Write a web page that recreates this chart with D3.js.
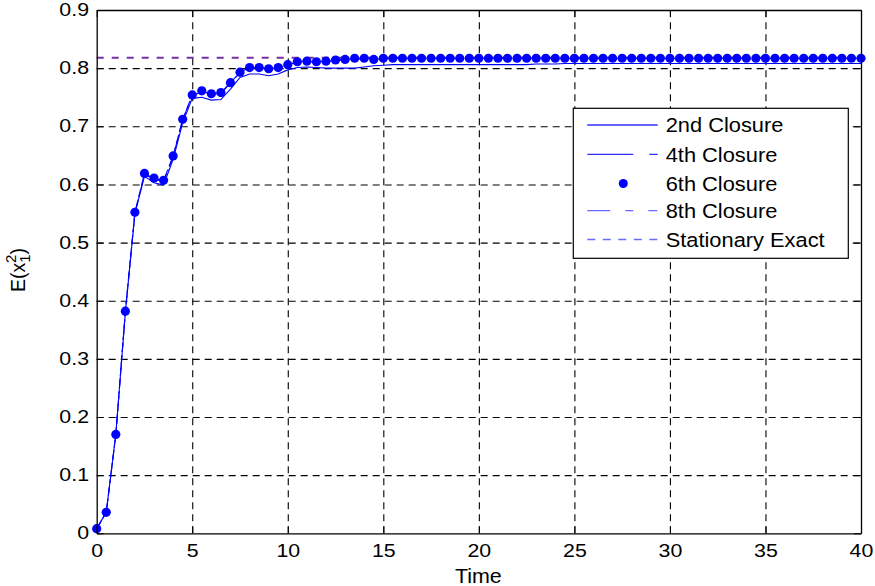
<!DOCTYPE html>
<html>
<head>
<meta charset="utf-8">
<script src="https://cdn.jsdelivr.net/npm/d3@7"></script>
<style>
  html, body { margin: 0; padding: 0; background: #fff; }
  svg { display: block; }
  text { font-family: "Liberation Sans", Arial, sans-serif; fill: #000; }
</style>
</head>
<body>
<svg id="chart" width="875" height="586"></svg>
<script>
// Sample times (s)
const time = [
  0, 0.5, 1, 1.5, 2, 2.5, 3, 3.5, 4, 4.5, 5, 5.5, 6, 6.5, 7, 7.5, 8, 8.5, 9, 9.5,
  10, 10.5, 11, 11.5, 12, 12.5, 13, 13.5, 14, 14.5, 15, 15.5, 16, 16.5, 17, 17.5, 18, 18.5, 19, 19.5,
  20, 20.5, 21, 21.5, 22, 22.5, 23, 23.5, 24, 24.5, 25, 25.5, 26, 26.5, 27, 27.5, 28, 28.5, 29, 29.5,
  30, 30.5, 31, 31.5, 32, 32.5, 33, 33.5, 34, 34.5, 35, 35.5, 36, 36.5, 37, 37.5, 38, 38.5, 39, 39.5, 40
];

// E(x1^2) from each moment closure
const closure2 = [
  0.008, 0.036, 0.170, 0.380, 0.550, 0.614, 0.603, 0.599, 0.643, 0.706,
  0.748, 0.750, 0.745, 0.746, 0.764, 0.784, 0.790, 0.790, 0.787, 0.790,
  0.797, 0.801, 0.802, 0.801, 0.800, 0.800, 0.800, 0.800, 0.802, 0.804,
  0.805, 0.806, 0.806, 0.806, 0.806, 0.806, 0.806, 0.806, 0.806, 0.806,
  0.806, 0.806, 0.806, 0.806, 0.806, 0.806, 0.807, 0.807, 0.807, 0.808,
  0.808, 0.808, 0.808, 0.808, 0.808, 0.808, 0.808, 0.808, 0.808, 0.808,
  0.808, 0.808, 0.808, 0.808, 0.808, 0.808, 0.808, 0.808, 0.808, 0.808,
  0.808, 0.808, 0.808, 0.808, 0.808, 0.808, 0.808, 0.808, 0.808, 0.808,
  0.808
];
const closure4 = [
  0.008, 0.036, 0.169, 0.381, 0.551, 0.617, 0.609, 0.605, 0.648, 0.711,
  0.753, 0.759, 0.754, 0.757, 0.774, 0.792, 0.800, 0.800, 0.798, 0.800,
  0.806, 0.810, 0.811, 0.811, 0.812, 0.813, 0.815, 0.816, 0.816, 0.815,
  0.816, 0.817, 0.817, 0.817, 0.817, 0.817, 0.817, 0.817, 0.817, 0.817,
  0.817, 0.817, 0.817, 0.817, 0.817, 0.817, 0.817, 0.817, 0.817, 0.817,
  0.817, 0.817, 0.817, 0.817, 0.817, 0.817, 0.817, 0.817, 0.817, 0.817,
  0.817, 0.817, 0.817, 0.817, 0.817, 0.817, 0.817, 0.817, 0.817, 0.817,
  0.817, 0.817, 0.817, 0.817, 0.817, 0.817, 0.817, 0.817, 0.817, 0.817,
  0.817
];
const closure6 = [
  0.008, 0.036, 0.170, 0.382, 0.552, 0.619, 0.611, 0.607, 0.649, 0.712,
  0.754, 0.761, 0.756, 0.758, 0.775, 0.793, 0.801, 0.801, 0.799, 0.801,
  0.806, 0.811, 0.812, 0.811, 0.812, 0.814, 0.815, 0.817, 0.817, 0.815,
  0.817, 0.817, 0.817, 0.817, 0.817, 0.817, 0.817, 0.817, 0.817, 0.817,
  0.817, 0.817, 0.817, 0.817, 0.817, 0.817, 0.817, 0.817, 0.817, 0.817,
  0.817, 0.817, 0.817, 0.817, 0.817, 0.817, 0.817, 0.817, 0.817, 0.817,
  0.817, 0.817, 0.817, 0.817, 0.817, 0.817, 0.817, 0.817, 0.817, 0.817,
  0.817, 0.817, 0.817, 0.817, 0.817, 0.817, 0.817, 0.817, 0.817, 0.817,
  0.817
];
const closure8 = [
  0.008, 0.036, 0.170, 0.382, 0.552, 0.619, 0.610, 0.607, 0.649, 0.712,
  0.754, 0.760, 0.756, 0.758, 0.775, 0.793, 0.801, 0.801, 0.799, 0.801,
  0.806, 0.811, 0.812, 0.811, 0.812, 0.814, 0.815, 0.817, 0.817, 0.815,
  0.817, 0.817, 0.817, 0.817, 0.817, 0.817, 0.817, 0.817, 0.817, 0.817,
  0.817, 0.817, 0.817, 0.817, 0.817, 0.817, 0.817, 0.817, 0.817, 0.817,
  0.817, 0.817, 0.817, 0.817, 0.817, 0.817, 0.817, 0.817, 0.817, 0.817,
  0.817, 0.817, 0.817, 0.817, 0.817, 0.817, 0.817, 0.817, 0.817, 0.817,
  0.817, 0.817, 0.817, 0.817, 0.817, 0.817, 0.817, 0.817, 0.817, 0.817,
  0.817
];
const stationaryExact = 0.818;

const xTicks = [0, 5, 10, 15, 20, 25, 30, 35, 40];
const yTicks = [0, 0.1, 0.2, 0.3, 0.4, 0.5, 0.6, 0.7, 0.8, 0.9];
const legendLabels = ["2nd Closure", "4th Closure", "6th Closure", "8th Closure", "Stationary Exact"];

// Layout
const plot = { left: 96.7, right: 861, top: 10, bottom: 533.3 };
const svg = d3.select("#chart");

const x = d3.scaleLinear().domain([0, 40]).range([plot.left, plot.right]);
const y = d3.scaleLinear().domain([0, 0.9]).range([plot.bottom, plot.top]);

const blue = "#0000ff";
const tickScaleX = 1.22;

// Dashed grid
const gridX = svg.append("g")
  .attr("transform", `translate(0,${plot.bottom})`)
  .call(d3.axisBottom(x).tickValues(xTicks).tickSize(-(plot.bottom - plot.top)).tickFormat(""));
const gridY = svg.append("g")
  .attr("transform", `translate(${plot.left},0)`)
  .call(d3.axisLeft(y).tickValues(yTicks).tickSize(-(plot.right - plot.left)).tickFormat(""));
[gridX, gridY].forEach(g => {
  g.select(".domain").remove();
  g.selectAll(".tick line")
    .attr("stroke", "#000")
    .attr("stroke-width", 1.1)
    .attr("stroke-dasharray", "7,5");
});
gridY.selectAll(".tick").filter(d => d === 0 || d === 0.9).remove();
gridX.selectAll(".tick").filter(d => d === 0 || d === 40).remove();

// Stationary exact value
svg.append("line")
  .attr("x1", x(0)).attr("x2", x(40))
  .attr("y1", y(stationaryExact)).attr("y2", y(stationaryExact))
  .attr("stroke", "#7a2f9e")
  .attr("stroke-width", 2)
  .attr("stroke-dasharray", "7,8");

const line = d3.line().x((d, i) => x(time[i])).y(d => y(d));

// 2nd closure: solid
svg.append("path").datum(closure2)
  .attr("d", line).attr("fill", "none")
  .attr("stroke", blue).attr("stroke-width", 1.1);

// 4th closure: dash-dot
svg.append("path").datum(closure4)
  .attr("d", line).attr("fill", "none")
  .attr("stroke", blue).attr("stroke-width", 1.1)
  .attr("stroke-dasharray", "10,3,2,3");

// 8th closure: dashed
svg.append("path").datum(closure8)
  .attr("d", line).attr("fill", "none")
  .attr("stroke", blue).attr("stroke-width", 1.1)
  .attr("stroke-dasharray", "8,4");

// 6th closure: markers only
svg.append("g").selectAll("circle")
  .data(closure6)
  .join("circle")
  .attr("cx", (d, i) => x(time[i]))
  .attr("cy", d => y(d))
  .attr("r", 4.6)
  .attr("fill", blue);

// Axes box with inward ticks
const axB = svg.append("g").attr("transform", `translate(0,${plot.bottom})`)
  .call(d3.axisBottom(x).tickValues(xTicks).tickSizeInner(-7).tickSizeOuter(0).tickPadding(11.3));
const axT = svg.append("g").attr("transform", `translate(0,${plot.top})`)
  .call(d3.axisTop(x).tickValues(xTicks).tickSizeInner(-7).tickSizeOuter(0).tickFormat(""));
const axL = svg.append("g").attr("transform", `translate(${plot.left},0)`)
  .call(d3.axisLeft(y).tickValues(yTicks).tickSizeInner(-7).tickSizeOuter(0).tickPadding(6.3)
    .tickFormat(d => d === 0 ? "0" : d3.format(".1f")(d)));
const axR = svg.append("g").attr("transform", `translate(${plot.right},0)`)
  .call(d3.axisRight(y).tickValues(yTicks).tickSizeInner(-7).tickSizeOuter(0).tickFormat(""));

[axB, axT, axL, axR].forEach(g => {
  g.select(".domain").attr("stroke", "#000").attr("stroke-width", 1.3);
  g.selectAll(".tick line").attr("stroke", "#000").attr("stroke-width", 1);
  g.selectAll(".tick text")
    .attr("font-family", "Liberation Sans, Arial, sans-serif")
    .attr("font-size", 17.5)
    .attr("fill", "#000")
    .attr("transform", `scale(${tickScaleX},1)`);
});

// Axis labels
svg.append("text")
  .attr("transform", `translate(${(plot.left + plot.right) / 2 - 0.5},583) scale(1.1,1)`)
  .attr("text-anchor", "middle")
  .attr("font-size", 19.5)
  .text("Time");

const yLab = svg.append("text")
  .attr("transform", "translate(25,292) rotate(-90)")
  .attr("font-size", 19.5);
yLab.append("tspan").text("E(x");
yLab.append("tspan").attr("font-size", 15).attr("dy", 5).text("1");
yLab.append("tspan").attr("font-size", 15).attr("dx", -8.5).attr("dy", -14).text("2");
yLab.append("tspan").attr("dy", 9).text(")");

// Legend
const lg = { left: 573.3, top: 108.3, right: 848.3, bottom: 258.3 };
svg.append("rect")
  .attr("x", lg.left).attr("y", lg.top)
  .attr("width", lg.right - lg.left).attr("height", lg.bottom - lg.top)
  .attr("fill", "#fff").attr("stroke", "#000").attr("stroke-width", 1.2);

const rowY = [125, 154.3, 183.5, 210.7, 239.5];
const sx0 = 587.3, sx1 = 657.7;
const legendStyle = [
  { dash: null, color: "#3030ff" },
  { dash: "46,16,9,100", color: "#3030ff" },
  { marker: true },
  { dash: "23,15,8,15,9,100", color: "#6a6aff" },
  { dash: "8,7.5", color: "#6a6aff" }
];
legendLabels.forEach((lab, i) => {
  const st = legendStyle[i];
  if (st.marker) {
    svg.append("circle").attr("cx", 623.3).attr("cy", rowY[i]).attr("r", 4.5).attr("fill", blue);
  } else {
    svg.append("line")
      .attr("x1", sx0).attr("x2", sx1)
      .attr("y1", rowY[i]).attr("y2", rowY[i])
      .attr("stroke", st.color).attr("stroke-width", 1.3)
      .attr("stroke-dasharray", st.dash);
  }
  svg.append("text")
    .attr("transform", `translate(665.7,${rowY[i] + 7.2}) scale(1.12,1)`)
    .attr("font-size", 19.5)
    .text(lab);
});
</script>
</body>
</html>
